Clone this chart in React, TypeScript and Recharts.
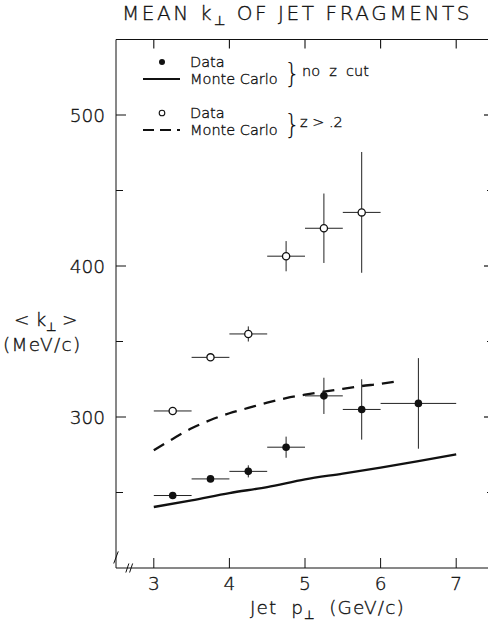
import React from "react";
import {
  ComposedChart,
  ErrorBar,
  Line,
  ReferenceLine,
  Scatter,
  XAxis,
  YAxis,
} from "recharts";

// mean k_T of jet fragments, no z cut
const ptNoCut = [3.25, 3.75, 4.25, 4.75, 5.25, 5.75, 6.5];
const ktNoCut = [248, 259, 264, 280, 314, 305, 309];
const ptErrNoCut = [0.25, 0.25, 0.25, 0.25, 0.25, 0.25, 0.5];
const ktErrNoCut = [0, 0, 4, 7, 12, 20, 30];

// mean k_T of jet fragments, z > .2
const ptZCut = [3.25, 3.75, 4.25, 4.75, 5.25, 5.75];
const ktZCut = [304, 339.5, 355, 406.5, 425, 435.5];
const ptErrZCut = [0.25, 0.25, 0.25, 0.25, 0.25, 0.25];
const ktErrZCut = [0, 0, 5, 10, 23, 40];

// Monte Carlo curves
const mcPtNoCut = [3, 3.5, 4, 4.5, 5, 5.5, 6, 6.5, 7];
const mcKtNoCut = [240.4, 244.8, 249.6, 253.6, 258.7, 262.5, 266.5, 270.8, 275.3];
const mcPtZCut = [3, 3.25, 3.5, 3.75, 4, 4.25, 4.5, 4.75, 5, 5.25, 5.5, 5.75, 6, 6.2];
const mcKtZCut = [278, 285.5, 292.5, 298, 302.5, 306, 309.5, 312.5, 314.8, 316.8, 318.7, 320.5, 322, 323.5];

const xTicks = [3, 4, 5, 6, 7];
const yTicks = [250, 300, 350, 400, 450, 500];
const yLabelled = [300, 400, 500];

const INK = "#111";
const FONT = '"DejaVu Sans", sans-serif';

const W = 500;
const H = 633;

const points = (xs: number[], ys: number[], exs: number[], eys: number[]) =>
  xs.map((x, i) => ({ x, y: ys[i], ex: exs[i], ey: eys[i] }));
const curve = (xs: number[], ys: number[]) => xs.map((x, i) => ({ x, y: ys[i] }));

const dataNoCut = points(ptNoCut, ktNoCut, ptErrNoCut, ktErrNoCut);
const dataZCut = points(ptZCut, ktZCut, ptErrZCut, ktErrZCut);
const lineNoCut = curve(mcPtNoCut, mcKtNoCut);
const lineZCut = curve(mcPtZCut, mcKtZCut);

// thin face, darkened a little with a hairline stroke
const txt = {
  fontFamily: FONT,
  fontWeight: 300,
  fill: INK,
  stroke: INK,
  strokeWidth: 0.35,
  style: { whiteSpace: "pre" as const },
};

const tickLen = (v: number) => (yLabelled.includes(v) ? 10 : 7);

function LeftTick({ x, y, payload }: any) {
  const v = payload.value;
  return (
    <g>
      <line x1={x} x2={x + tickLen(v)} y1={y} y2={y} stroke={INK} />
      {yLabelled.includes(v) && (
        <text x={x - 11} y={y + 7} textAnchor="end" fontSize={18.5} {...txt}>
          {v}
        </text>
      )}
    </g>
  );
}

function RightTick({ x, y, payload }: any) {
  return <line x1={x} x2={x - tickLen(payload.value)} y1={y} y2={y} stroke={INK} strokeWidth={1.2} />;
}

function BottomTick({ x, y, payload }: any) {
  return (
    <g>
      <line x1={x} x2={x} y1={y} y2={y - 10} stroke={INK} />
      <text x={x} y={y + 22} textAnchor="middle" fontSize={18.5} {...txt}>
        {payload.value}
      </text>
    </g>
  );
}

function TopTick({ x, y }: any) {
  return <line x1={x} x2={x} y1={y} y2={y + 9} stroke={INK} strokeWidth={1.1} />;
}

const FilledDot = (p: any) => <circle cx={p.cx} cy={p.cy} r={3.8} fill={INK} />;
const OpenDot = (p: any) => (
  <circle cx={p.cx} cy={p.cy} r={3.6} fill="#fff" stroke={INK} strokeWidth={1.3} />
);

function Annotations() {
  return (
    <svg width={488} height={633} style={{ position: "absolute", left: 0, top: 0, pointerEvents: "none" }}>
      <text x={122} y={20} fontSize={20} letterSpacing={2.6} {...txt}>
        MEAN k<tspan fontSize={13} dy={5}>⊥</tspan>
        <tspan dy={-5}> OF JET FRAGMENTS</tspan>
      </text>

      {/* legend: no z cut */}
      <circle cx={162} cy={62} r={3} fill={INK} />
      <text x={190} y={67} fontSize={14.5} {...txt}>Data</text>
      <line x1={143} x2={180} y1={79} y2={79} stroke={INK} strokeWidth={2} />
      <text x={190} y={84} fontSize={14.5} {...txt}>Monte Carlo</text>
      <text x={284} y={82} fontSize={26} {...txt} strokeWidth={0}>{"}"}</text>
      <text x={302} y={76} fontSize={14.5} {...txt}>no  z  cut</text>

      {/* legend: z > .2 */}
      <circle cx={162} cy={113} r={2.8} fill="#fff" stroke={INK} strokeWidth={1.1} />
      <text x={190} y={118} fontSize={14.5} {...txt}>Data</text>
      <line x1={143} x2={180} y1={130} y2={130} stroke={INK} strokeWidth={2} strokeDasharray="11 6" />
      <text x={190} y={135} fontSize={14.5} {...txt}>Monte Carlo</text>
      <text x={284} y={133} fontSize={26} {...txt} strokeWidth={0}>{"}"}</text>
      <text x={300} y={127} fontSize={14.5} {...txt}>z &gt; .2</text>

      {/* axis titles */}
      <text x={14} y={326} fontSize={18.5} {...txt}>
        {"< k"}
        <tspan fontSize={12} dy={5}>⊥</tspan>
        <tspan dy={-5}>{" >"}</tspan>
      </text>
      <text x={3} y={351} fontSize={18.5} letterSpacing={1.3} {...txt}>(MeV/c)</text>
      <text x={250} y={614} fontSize={18.5} letterSpacing={1.1} {...txt}>
        {"Jet  p"}
        <tspan fontSize={12} dy={5}>⊥</tspan>
        <tspan dy={-5}>{"  (GeV/c)"}</tspan>
      </text>
    </svg>
  );
}

export default function App() {
  return (
    <div style={{ position: "absolute", left: 0, top: 0, width: 488, height: 633, overflow: "hidden", background: "#fff" }}>
      <ComposedChart width={W} height={H} margin={{ top: 38.5, right: 5, bottom: 30, left: 0 }}>
        <XAxis
          dataKey="x"
          type="number"
          domain={[2.5, 7.5]}
          ticks={xTicks}
          height={35}
          tickSize={0}
          tickMargin={0}
          tick={<BottomTick />}
          axisLine={{ stroke: INK }}
          tickLine={false}
          allowDataOverflow
        />
        {/* frame top: a 1px-high axis so its ticks get drawn */}
        <XAxis
          xAxisId="top"
          dataKey="x"
          orientation="top"
          type="number"
          domain={[2.5, 7.5]}
          ticks={xTicks}
          height={1}
          tickSize={0}
          tickMargin={0}
          tick={<TopTick />}
          axisLine={{ stroke: INK }}
          tickLine={false}
          allowDataOverflow
        />
        <YAxis
          dataKey="y"
          type="number"
          domain={[200, 550]}
          ticks={yTicks}
          width={116}
          tickSize={0}
          tickMargin={0}
          tick={<LeftTick />}
          axisLine={{ stroke: INK }}
          tickLine={false}
          allowDataOverflow
        />
        <YAxis
          yAxisId="right"
          dataKey="y"
          orientation="right"
          type="number"
          domain={[200, 550]}
          ticks={yTicks}
          width={1}
          tickSize={0}
          tickMargin={0}
          tick={<RightTick />}
          axisLine={{ stroke: INK }}
          tickLine={false}
          allowDataOverflow
        />

        {/* axis break marks */}
        <ReferenceLine segment={[{ x: 2.47, y: 203 }, { x: 2.53, y: 211 }]} stroke={INK} ifOverflow="visible" />
        <ReferenceLine segment={[{ x: 2.63, y: 197 }, { x: 2.67, y: 203 }]} stroke={INK} ifOverflow="visible" />
        <ReferenceLine segment={[{ x: 2.68, y: 197 }, { x: 2.72, y: 203 }]} stroke={INK} ifOverflow="visible" />

        <Line
          data={lineNoCut}
          dataKey="y"
          type="monotone"
          stroke={INK}
          strokeWidth={2.3}
          dot={false}
          isAnimationActive={false}
        />
        {/* same domains as the main axes; keeps the mirror axes bound to a series */}
        <Line
          data={lineZCut}
          dataKey="y"
          xAxisId="top"
          yAxisId="right"
          type="monotone"
          stroke={INK}
          strokeWidth={2.3}
          strokeDasharray="12 8"
          dot={false}
          isAnimationActive={false}
        />

        <Scatter data={dataNoCut} shape={FilledDot} isAnimationActive={false}>
          <ErrorBar dataKey="ex" direction="x" width={0} stroke="#222" strokeWidth={1} />
          <ErrorBar dataKey="ey" direction="y" width={0} stroke="#222" strokeWidth={1} />
        </Scatter>
        <Scatter data={dataZCut} shape={OpenDot} isAnimationActive={false}>
          <ErrorBar dataKey="ex" direction="x" width={0} stroke="#222" strokeWidth={1} />
          <ErrorBar dataKey="ey" direction="y" width={0} stroke="#222" strokeWidth={1} />
        </Scatter>
      </ComposedChart>
      <Annotations />
    </div>
  );
}
